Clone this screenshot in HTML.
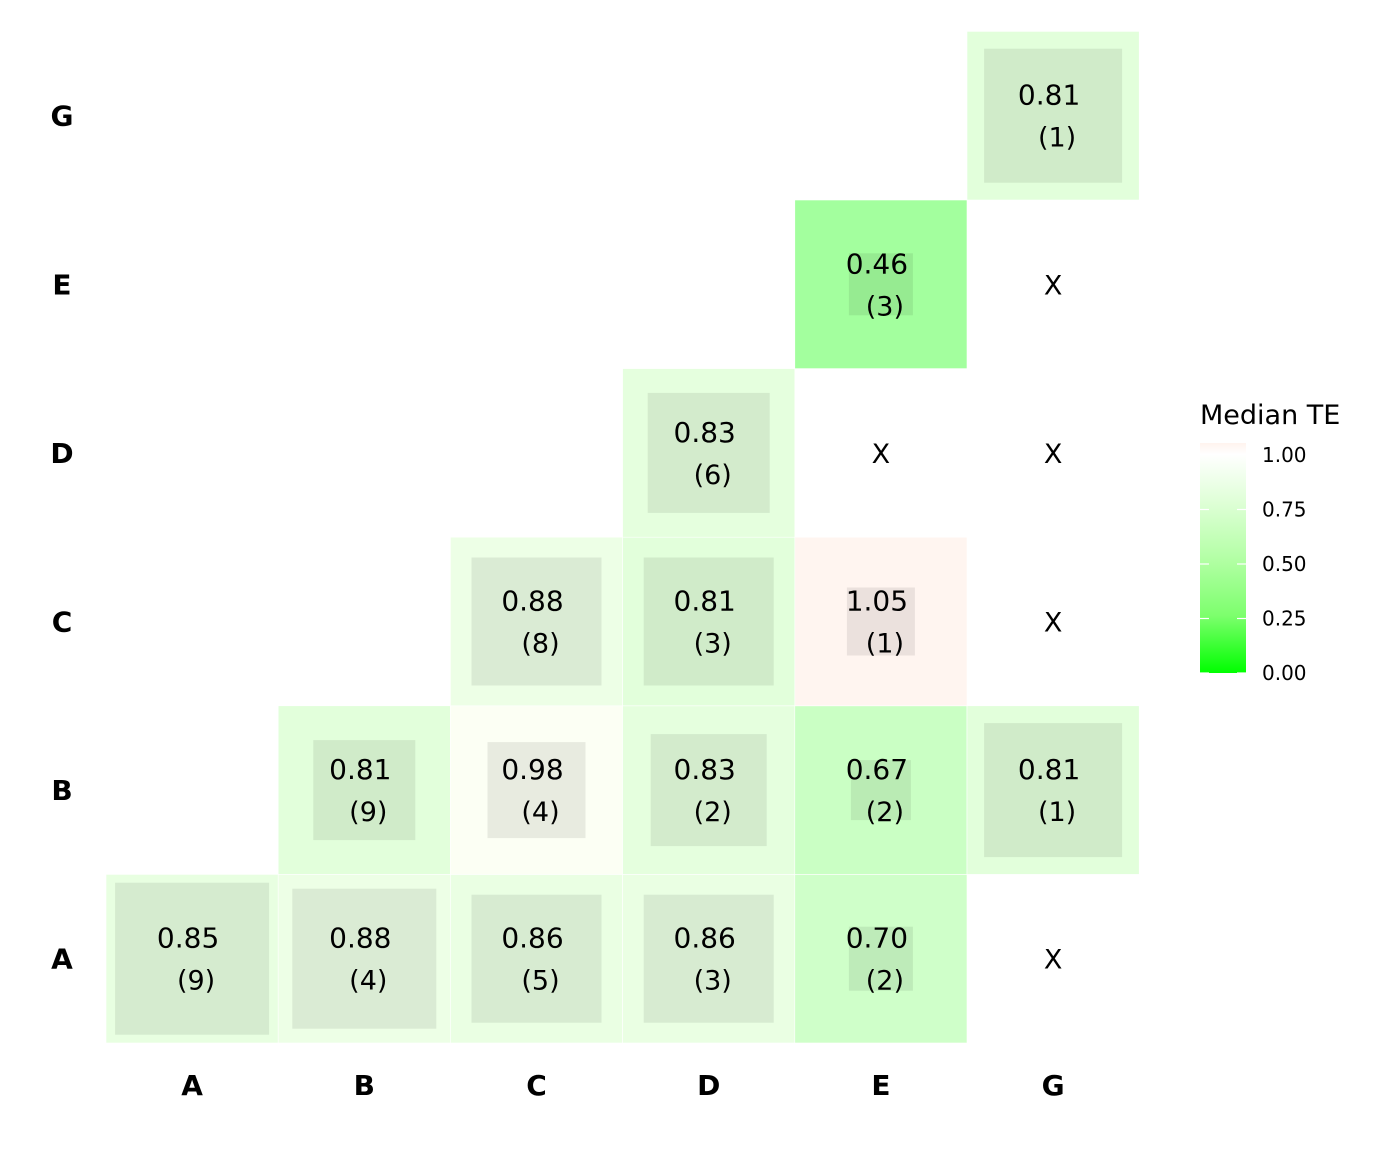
<!DOCTYPE html>
<html><head><meta charset="utf-8">
<style>
html,body{margin:0;padding:0;background:#fff;}
svg text{font-family:"DejaVu Sans","Liberation Sans",sans-serif;}
</style></head>
<body>
<svg id="chart" width="1382" height="1152" xmlns="http://www.w3.org/2000/svg">
<defs>
<linearGradient id="lg" x1="0" y1="1" x2="0" y2="0">
<stop offset="0" stop-color="#00ff00"/>
<stop offset="0.25" stop-color="#7dff6d"/>
<stop offset="0.5" stop-color="#b4ffa6"/>
<stop offset="0.75" stop-color="#e0ffd8"/>
<stop offset="0.95" stop-color="#ffffff"/>
<stop offset="1" stop-color="#fff3ee"/>
</linearGradient>
</defs>
<g id="cells"></g>
<g id="axes"></g>
<g id="legend">
<text x="1200" y="424" font-size="27">Median TE</text>
<rect x="1200" y="443" width="46" height="230" fill="url(#lg)"/>
</g>
</svg>
<script>
const cols = ["A","B","C","D","E","G"];
const rows = ["A","B","C","D","E","G"];
const cellCol = [0,1,2,3,4, 1,2,3,4,5, 2,3,4, 3, 4, 5];
const cellRow = [0,0,0,0,0, 1,1,1,1,1, 2,2,2, 3, 4, 5];
const cellVal = [0.85,0.88,0.86,0.86,0.70, 0.81,0.98,0.83,0.67,0.81, 0.88,0.81,1.05, 0.83, 0.46, 0.81];
const cellN = [9,4,5,3,2, 9,4,2,2,1, 8,3,1, 6, 3, 1];
const boxes = [[77,76],[72,70],[65,64],[65,64],[32,32],[51,50],[49,48],[58,56],[30,30],[69,67],[65,64],[65,64],[34,34],[61,60],[32,31],[69,67]];
const missCol = [5,5,5,4,5];
const missRow = [0,2,3,3,4];
const legendTicks = [0,0.25,0.5,0.75,1.0];

const x0=106, cw=172.2, yb=1043, rh=168.6;
const cx = i => x0 + cw*i + cw/2;
const cy = j => yb - rh*j - rh/2;
function color(v){
  if(v>1){const t=Math.min((v-1)/0.05,1);return `rgb(255,${Math.round(255-10*t)},${Math.round(255-15*t)})`;}
  const s=Math.pow(Math.max(v,0),0.58);
  const c=Math.round(255*s);
  return `rgb(${c},255,${Math.round(c*0.97)})`;
}
const NS="http://www.w3.org/2000/svg";
const g=document.getElementById('cells');
function el(tag,attrs,parent){const e=document.createElementNS(NS,tag);for(const k in attrs)e.setAttribute(k,attrs[k]);parent.appendChild(e);return e;}
cellVal.forEach((v,i)=>{
  const x=cx(cellCol[i]), y=cy(cellRow[i]);
  const r=el('rect',{x:x-cw/2,y:y-rh/2,width:cw,height:rh,fill:color(v),stroke:'#fff','stroke-width':0.6},g);
  
  
  const b=boxes[i];
  const ib=el('rect',{x:x-b[0],y:y-b[1],width:b[0]*2,height:b[1]*2,fill:'rgba(0,0,0,0.08)'},g);
  
  
  const t=el('text',{x:x-4,y:y-11,'font-size':28,'text-anchor':'middle'},g);
  t.textContent=v.toFixed(2);
  
  
  const t2=el('text',{x:x+4,y:y+31,'font-size':27,'text-anchor':'middle'},g);
  t2.textContent='('+cellN[i]+')';
  
  
});
missCol.forEach((c,k)=>{
  const t=el('text',{x:cx(c),y:cy(missRow[k])+10,'font-size':27,'text-anchor':'middle'},g);
  t.textContent='X';
  
  
});
const ax=document.getElementById('axes');
cols.forEach((c,i)=>{
  const t=el('text',{x:cx(i),y:1095,'font-size':28,'font-weight':'bold','text-anchor':'middle'},ax);
  t.textContent=c;
  
  
});
rows.forEach((r,j)=>{
  const t=el('text',{x:62,y:cy(j)+10,'font-size':28,'font-weight':'bold','text-anchor':'middle'},ax);
  t.textContent=r;
  
  
});
const lg=document.getElementById('legend');
const ly=v=>673-218*v;
legendTicks.forEach(v=>{
  el('line',{x1:1200,x2:1209,y1:ly(v),y2:ly(v),stroke:'#fff','stroke-width':1.2},lg);
  el('line',{x1:1237,x2:1246,y1:ly(v),y2:ly(v),stroke:'#fff','stroke-width':1.2},lg);
  const t=el('text',{x:1262,y:ly(v)+7,'font-size':20},lg);
  t.textContent=v.toFixed(2);
  
  
});
</script>
</body></html>
